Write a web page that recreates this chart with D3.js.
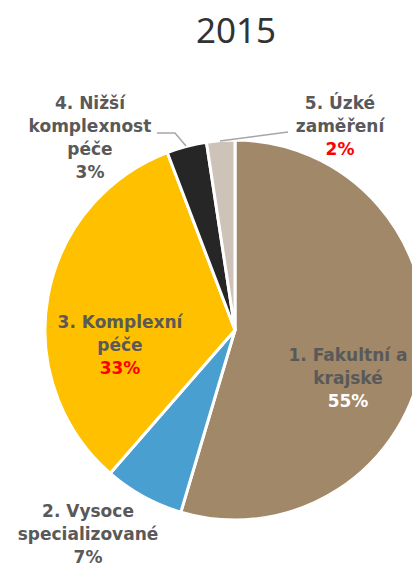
<!DOCTYPE html>
<html>
<head>
<meta charset="utf-8">
<script src="https://cdn.jsdelivr.net/npm/d3@7"></script>
<style>
  body { margin: 0; background: #fff; }
  svg { display: block; }
  .lbl { font-family: "DejaVu Sans", Verdana, sans-serif; font-weight: bold; font-size: 17px; fill: #595959; }
</style>
</head>
<body>
<div id="chart"></div>
<script>
const title = "2015";
const categories = ["1. Fakultní a krajské", "2. Vysoce specializované", "3. Komplexní péče", "4. Nižší komplexnost péče", "5. Úzké zaměření"];
const labelLines = [["1. Fakultní a", "krajské"], ["2. Vysoce", "specializované"], ["3. Komplexní", "péče"], ["4. Nižší", "komplexnost", "péče"], ["5. Úzké", "zaměření"]];
const shares = [54.6, 6.8, 32.8, 3.4, 2.4];
const colors = ["#A08868", "#4A9FD1", "#FFC000", "#262626", "#CEC3B8"];
const pctColors = ["#FFFFFF", "#595959", "#FF0000", "#595959", "#FF0000"];

const width = 412, height = 566;
const cx = 235, cy = 330, radius = 190;

const svg = d3.select("#chart").append("svg")
    .attr("width", width)
    .attr("height", height);

svg.append("text")
    .attr("x", 236)
    .attr("y", 43)
    .attr("text-anchor", "middle")
    .style("font-family", "'Noto Sans', sans-serif")
    .style("font-size", "35px")
    .style("fill", "#333")
    .text(title);

const pie = d3.pie().sort(null).value(d => d)(shares);
const arc = d3.arc().innerRadius(0).outerRadius(radius);

const g = svg.append("g").attr("transform", `translate(${cx},${cy})`);

g.selectAll("path")
    .data(pie)
    .enter().append("path")
    .attr("d", arc)
    .attr("fill", (d, i) => colors[i])
    .attr("stroke", "#fff")
    .attr("stroke-width", 3)
    .attr("stroke-linejoin", "round");

// label positions (centre of first line) and leader lines for small slices
const labelPos = [[348, 361], [88, 517], [120, 328], [90, 109], [340, 109]];
const leaders = {
    3: [[157, 133], [175, 133], [186, 146]],
    4: [[288, 132], [220, 141]]
};

Object.keys(leaders).forEach(k => {
    svg.append("path")
        .attr("d", d3.line()(leaders[k]))
        .attr("fill", "none")
        .attr("stroke", "#A6A6A6")
        .attr("stroke-width", 1.5);
});

const lineH = 23;
categories.forEach((c, i) => {
    const t = svg.append("text")
        .attr("class", "lbl")
        .attr("text-anchor", "middle")
        .attr("x", labelPos[i][0])
        .attr("y", labelPos[i][1]);
    labelLines[i].forEach((ln, j) => {
        t.append("tspan")
            .attr("x", labelPos[i][0])
            .attr("dy", j === 0 ? 0 : lineH)
            .text(ln);
    });
    t.append("tspan")
        .attr("x", labelPos[i][0])
        .attr("dy", lineH)
        .style("fill", pctColors[i])
        .text(Math.round(shares[i]) + "%");
});
</script>
</body>
</html>
